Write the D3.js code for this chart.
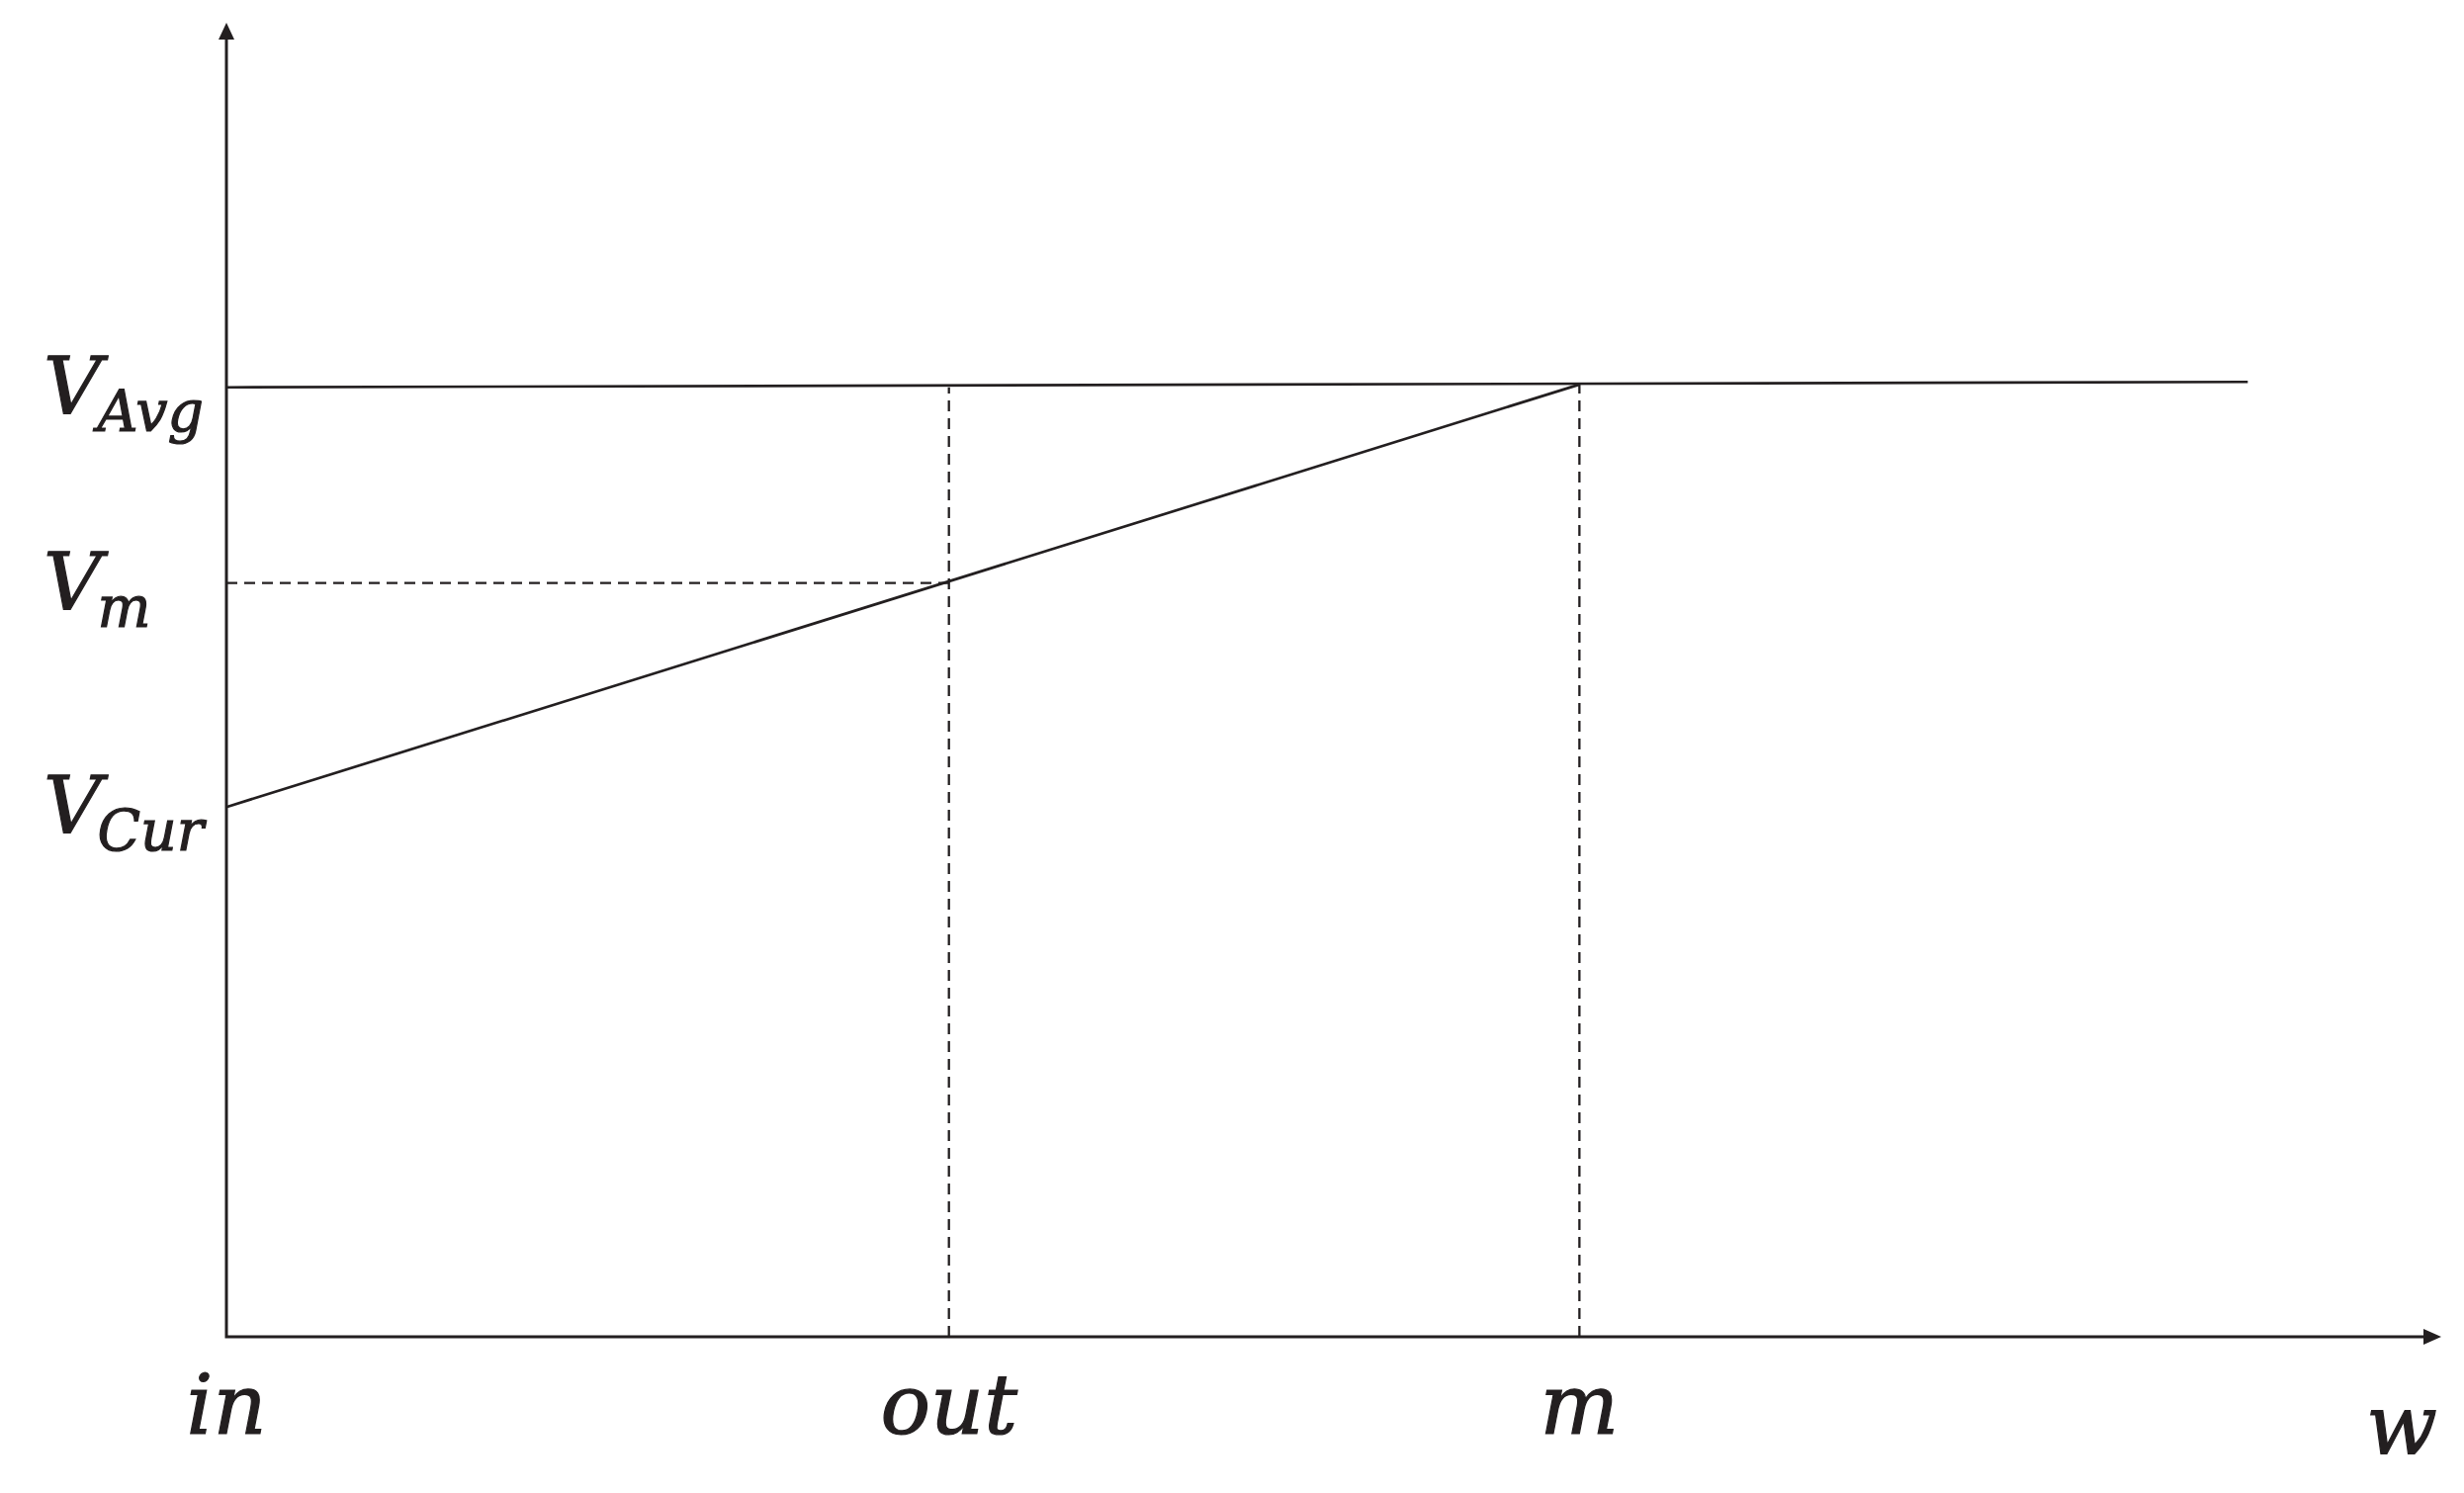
<!DOCTYPE html>
<html>
<head>
<meta charset="utf-8">
<script src="https://cdn.jsdelivr.net/npm/d3@7"></script>
<style>
  html, body { margin: 0; padding: 0; background: #fff; }
  svg { display: block; }
  text { font-family: "DejaVu Serif", serif; font-style: italic; fill: #231f20; stroke: #231f20; stroke-width: 1.2px; }
</style>
</head>
<body>
<svg id="chart" width="2492" height="1510"></svg>
<script>
// w axis: "in" sits at 0, "m" at 1
const xTickLabels = ['in', 'out', 'm'];
const xTickValues = [0, 0.534, 1];
const wMax = 1.637;

// value axis: x-axis is 0, V_Avg is 1
const yLabelSub = ['Avg', 'm', 'Cur'];
const yLevels = [1, 0.794, 0.558];
const vMax = 1.384;

// the two solid lines, as [w, v] pairs
const avgLine = [[0, 1.0], [1.494, 1.0057]];
const riseLine = [[0, 0.558], [1, 1.003]];

// dashed guides: out up to V_Avg, m up to the meeting point, V_m across to out
const outGuide = [[0.534, 0], [0.534, 1.0]];
const mGuide = [[1, 0], [1, 1.003]];
const vmGuide = [[0, 0.794], [0.534, 0.794]];

const ink = '#231f20';
const svg = d3.select('#chart');

const x = d3.scaleLinear().domain([0, wMax]).range([229, 2469]);
const y = d3.scaleLinear().domain([0, vMax]).range([1352, 23]);

const line = d3.line().x(d => x(d[0])).y(d => y(d[1]));

// axes
svg.append('path')
  .attr('d', line([[0, vMax - 0.017], [0, 0], [wMax - 0.013, 0]]))
  .attr('fill', 'none')
  .attr('stroke', ink)
  .attr('stroke-width', 3);

// arrow heads
const tipY = [x(0), y(vMax)];
svg.append('path')
  .attr('d', `M${tipY[0]},${tipY[1]} L${tipY[0] - 8},${tipY[1] + 17} L${tipY[0] + 8},${tipY[1] + 17} Z`)
  .attr('fill', ink);
const tipX = [x(wMax), y(0)];
svg.append('path')
  .attr('d', `M${tipX[0]},${tipX[1]} L${tipX[0] - 18},${tipX[1] - 8} L${tipX[0] - 18},${tipX[1] + 8} Z`)
  .attr('fill', ink);

// dashed guides
svg.selectAll('.guide')
  .data([outGuide, mGuide, vmGuide])
  .enter()
  .append('path')
  .attr('class', 'guide')
  .attr('d', line)
  .attr('fill', 'none')
  .attr('stroke', ink)
  .attr('stroke-width', 2.3)
  .attr('stroke-dasharray', '11,7');

// solid lines
svg.selectAll('.solid')
  .data([avgLine, riseLine])
  .enter()
  .append('path')
  .attr('class', 'solid')
  .attr('d', line)
  .attr('fill', 'none')
  .attr('stroke', ink)
  .attr('stroke-width', 2.7);

// value labels: V with subscript
const yl = svg.selectAll('.ylab')
  .data(yLevels)
  .enter()
  .append('text')
  .attr('class', 'ylab')
  .attr('x', 44)
  .attr('y', d => y(d) + 27)
  .style('font-size', '81px');
yl.append('tspan').text('V');
yl.append('tspan')
  .attr('dx', -4)
  .attr('dy', 17)
  .style('font-size', '57px')
  .text((d, i) => yLabelSub[i]);

// w labels
svg.selectAll('.xlab')
  .data(xTickValues)
  .enter()
  .append('text')
  .attr('class', 'xlab')
  .attr('x', d => x(d))
  .attr('y', 1450)
  .attr('text-anchor', 'middle')
  .style('font-size', '84px')
  .text((d, i) => xTickLabels[i]);

svg.append('text')
  .attr('x', x(wMax) - 4)
  .attr('y', 1470)
  .attr('text-anchor', 'end')
  .style('font-size', '84px')
  .text('w');
</script>
</body>
</html>
